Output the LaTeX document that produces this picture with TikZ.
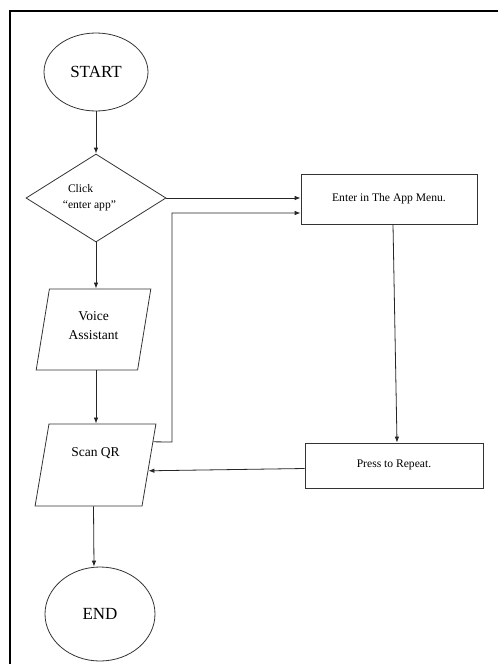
\documentclass[tikz,border=0pt]{standalone}
\usepackage{fontspec}
\setmainfont{Liberation Serif}
\usetikzlibrary{shapes.geometric,arrows.meta,calc}
\begin{document}
\begin{tikzpicture}[x=1pt,y=-1pt,
  line width=0.8pt,
  every node/.style={draw=black!80, inner sep=0pt},
  term/.style={ellipse, font=\fontsize{17}{20}\selectfont},
  decis/.style={diamond, font=\fontsize{11.6}{16}\selectfont, align=left},
  io/.style={trapezium, trapezium left angle=78, trapezium right angle=102,
    trapezium stretches=true, font=\fontsize{13.5}{19}\selectfont, align=center},
  proc/.style={rectangle, font=\fontsize{11.6}{14}\selectfont},
  arr/.style={draw=black!85, -{Latex[length=6pt,width=4.5pt]}},
  ln/.style={draw=black!85}]
\useasboundingbox (0,0) rectangle (498,664);
\fill[white] (0,0) rectangle (498,664);
\draw[line width=1.2pt] (498,11) -- (10,11) -- (10,664);

\node[term, minimum width=104pt, minimum height=78pt] (start) at (96,72) {START};
\node[decis, minimum width=140pt, minimum height=88pt] (dia) at (96,198) {Click\\\llap{“}enter app”\hspace*{8pt}};
\node[io, minimum width=115pt, minimum height=81pt] (voice) at (93.5,329.5) {Voice\\Assistant\\[-12pt]};
\node[io, minimum width=121pt, minimum height=82pt] (scan) at (95.5,465) {Scan QR\\[6pt]};
\node[term, minimum width=110pt, minimum height=94pt] (end) at (100,614) {END};
\node[proc, minimum width=176pt, minimum height=50pt] (enter) at (389,199) {\raisebox{4pt}{Enter in The App Menu.}};
\node[proc, minimum width=178pt, minimum height=45pt] (press) at (394,465.5) {\raisebox{4pt}{Press to Repeat.}};

\coordinate (j1) at ($(scan.top right corner)!0.22!(scan.bottom right corner)$);
\coordinate (j2) at ($(scan.top right corner)!0.57!(scan.bottom right corner)$);
\coordinate (bend) at (172,442);

\draw[arr] (start.south) -- (dia.north);
\draw[arr] (dia.east) -- (dia.east -| enter.west);
\draw[arr] (dia.south) -- (dia.south |- voice.north);
\draw[arr] (dia.south |- voice.south) -- (dia.south |- scan.north);
\draw[arr] ($(scan.south)+(-2,0)$) -- ($(end.north)+(-6,0)$);
\draw[arr] (j1) -- (bend) |- ($(enter.west)+(0,14)$);
\draw[arr] ($(enter.south)+(4,0)$) -- ($(press.north)+(3,0)$);
\draw[arr] ($(press.west)+(0,3)$) -- (j2);
\end{tikzpicture}
\end{document}
